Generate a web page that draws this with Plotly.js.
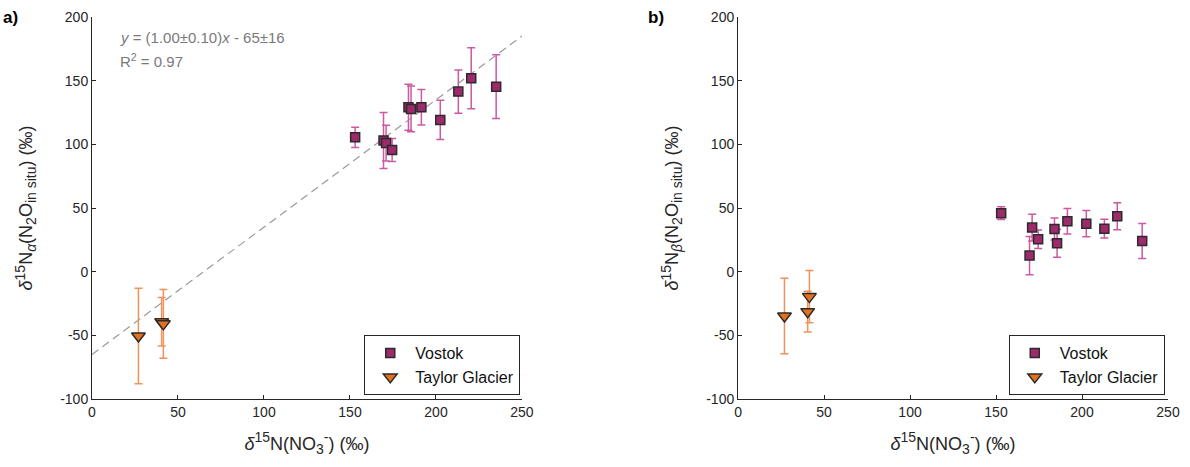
<!DOCTYPE html>
<html>
<head>
<meta charset="utf-8">
<script src="https://cdn.plot.ly/plotly-3.0.1.min.js"></script>
<style>html,body{margin:0;padding:0;background:#fff;}#chart{width:1190px;height:467px;}</style>
</head>
<body>
<div id="chart"></div>
<script>
// Vostok: d15N(NO3-) and isotopomer values
const vostokX = [153, 169.5, 171, 174.5, 184, 185.5, 191.5, 202.5, 213, 220.5, 235];
const vostokAlpha = [105.5, 103, 101, 95.6, 129.1, 127.8, 129.1, 119.2, 141.4, 151.9, 145.3];
const vostokAlphaErr = [8, 22, 14, 9, 18, 18, 14, 15.5, 17, 24, 25];
const vostokBeta = [45.9, 12.6, 34.6, 25.4, 33.5, 22.3, 39.6, 37.7, 33.8, 43.5, 24.1];
const vostokBetaErr = [5, 15, 10.5, 7.3, 8.6, 11, 10, 10.3, 7.3, 10.6, 13.7];
const vostokXErr = [1, 1, 1, 1, 1, 1, 1, 1, 1, 1, 1];

// Taylor Glacier
const taylorX = [27, 40.5, 41.5];
const taylorAlpha = [-50.5, -39.3, -41];
const taylorAlphaErr = [37.5, 19, 27];
const taylorBeta = [-34.8, -31.4, -19.6];
const taylorBetaErr = [29.6, 16, 20.5];
const taylorXErr = [1, 1, 1];

// Regression line (panel a): y = slope*x + intercept
const fitSlope = 1.00;
const fitIntercept = -65;
const fitX = [0, 250];
const fitY = fitX.map(x => fitSlope * x + fitIntercept);

const xTicks = [0, 50, 100, 150, 200, 250];
const yTicks = [-100, -50, 0, 50, 100, 150, 200];
const xTickText = xTicks.map(String);
const yTickText = yTicks.map(String);

const FONT = 'Liberation Sans, Arial, sans-serif';
const vostokFill = '#9E2A6C';
const vostokErr = '#CB5AA0';
const taylorFill = '#E5711E';
const taylorErr = '#F3915B';
const edge = '#2b2b2b';

function vostokTrace(y, err, xa, ya, leg) {
  return {
    x: vostokX, y: y, xaxis: xa, yaxis: ya, type: 'scatter', mode: 'markers',
    name: 'Vostok', legend: leg,
    marker: {symbol: 'square', size: 9, color: vostokFill, line: {color: edge, width: 1.5}},
    error_y: {type: 'data', array: err, visible: true, color: vostokErr, thickness: 1.5, width: 4},
    error_x: {type: 'data', array: vostokXErr, visible: true, color: vostokErr, thickness: 1.5, width: 3}
  };
}
function taylorTrace(y, err, xa, ya, leg) {
  return {
    x: taylorX, y: y, xaxis: xa, yaxis: ya, type: 'scatter', mode: 'markers',
    name: 'Taylor Glacier', legend: leg,
    marker: {symbol: 'triangle-down', size: 12, color: taylorFill, line: {color: edge, width: 1.5}},
    error_y: {type: 'data', array: err, visible: true, color: taylorErr, thickness: 1.5, width: 4},
    error_x: {type: 'data', array: taylorXErr, visible: true, color: taylorErr, thickness: 1.5, width: 3}
  };
}

const data = [
  {x: fitX, y: fitY, xaxis: 'x', yaxis: 'y', type: 'scatter', mode: 'lines', showlegend: false,
   line: {color: '#9a9a9a', width: 1.2, dash: '8px,5px'}, hoverinfo: 'skip'},
  vostokTrace(vostokAlpha, vostokAlphaErr, 'x', 'y', 'legend'),
  taylorTrace(taylorAlpha, taylorAlphaErr, 'x', 'y', 'legend'),
  vostokTrace(vostokBeta, vostokBetaErr, 'x2', 'y2', 'legend2'),
  taylorTrace(taylorBeta, taylorBetaErr, 'x2', 'y2', 'legend2')
];

const axisCommon = {
  showline: true, linecolor: '#262626', linewidth: 1, zeroline: false, showgrid: false,
  ticks: 'inside', ticklen: 4, tickcolor: '#262626', tickfont: {family: FONT, size: 14, color: '#262626'}
};
const SUB = (t) => '<sub><span style="font-size:14px">' + t + '</span></sub>';
const SUP = (t) => '<sup><span style="font-size:14px">' + t + '</span></sup>';
const xTitle = '<i>δ</i>' + SUP('15') + 'N(NO' + SUB('3') + SUP('-') + ') (‰)';
const yTitleA = '<i>δ</i>' + SUP('15') + 'N' + SUB('<i>α</i>') + '(N' + SUB('2') + 'O' + SUB('in situ') + ') (‰)';
const yTitleB = '<i>δ</i>' + SUP('15') + 'N' + SUB('<i>β</i>') + '(N' + SUB('2') + 'O' + SUB('in situ') + ') (‰)';
const titleFont = {family: FONT, size: 18, color: '#262626'};

const layout = {
  width: 1190, height: 467,
  margin: {l: 92, r: 22, t: 17, b: 68},
  paper_bgcolor: '#fff', plot_bgcolor: '#fff',
  font: {family: FONT, color: '#262626'},
  xaxis: Object.assign({}, axisCommon, {domain: [0, 0.3996], range: [0, 250], tickvals: xTicks, ticktext: xTickText, anchor: 'y',
    title: {text: xTitle, font: titleFont, standoff: 18}}),
  yaxis: Object.assign({}, axisCommon, {range: [-100, 200], tickvals: yTicks, ticktext: yTickText, anchor: 'x',
    title: {text: yTitleA, font: titleFont, standoff: 22}}),
  xaxis2: Object.assign({}, axisCommon, {domain: [0.6004, 1], range: [0, 250], tickvals: xTicks, ticktext: xTickText, anchor: 'y2',
    title: {text: xTitle, font: titleFont, standoff: 18}}),
  yaxis2: Object.assign({}, axisCommon, {range: [-100, 200], tickvals: yTicks, ticktext: yTickText, anchor: 'x2',
    title: {text: yTitleB, font: titleFont, standoff: 22}}),
  legend: {x: 0.398, xanchor: 'right', y: 0.01, yanchor: 'bottom', bgcolor: '#fff', itemwidth: 40,
    bordercolor: '#262626', borderwidth: 1, font: {family: FONT, size: 16, color: '#111'}, tracegroupgap: 0},
  legend2: {x: 0.997, xanchor: 'right', y: 0.01, yanchor: 'bottom', bgcolor: '#fff', itemwidth: 40,
    bordercolor: '#262626', borderwidth: 1, font: {family: FONT, size: 16, color: '#111'}, tracegroupgap: 0},
  annotations: [
    {xref: 'x', yref: 'y', x: 15, y: 183.6, xanchor: 'left', yanchor: 'middle', showarrow: false,
     text: '<i>y</i> = (1.00±0.10)<i>x</i> - 65±16', font: {family: FONT, size: 15, color: '#7a7a7a'}},
    {xref: 'x', yref: 'y', x: 15, y: 165.5, xanchor: 'left', yanchor: 'middle', showarrow: false,
     text: 'R<sup>2</sup> = 0.97', font: {family: FONT, size: 15, color: '#7a7a7a'}},
    {xref: 'paper', yref: 'paper', x: -0.085, y: 1.0, xanchor: 'left', yanchor: 'middle', showarrow: false,
     text: '<b>a)</b>', font: {family: FONT, size: 17, color: '#000'}},
    {xref: 'paper', yref: 'paper', x: 0.515, y: 1.0, xanchor: 'left', yanchor: 'middle', showarrow: false,
     text: '<b>b)</b>', font: {family: FONT, size: 17, color: '#000'}}
  ],
  showlegend: true
};

Plotly.newPlot('chart', data, layout, {displayModeBar: false, staticPlot: true});
</script>
</body>
</html>
